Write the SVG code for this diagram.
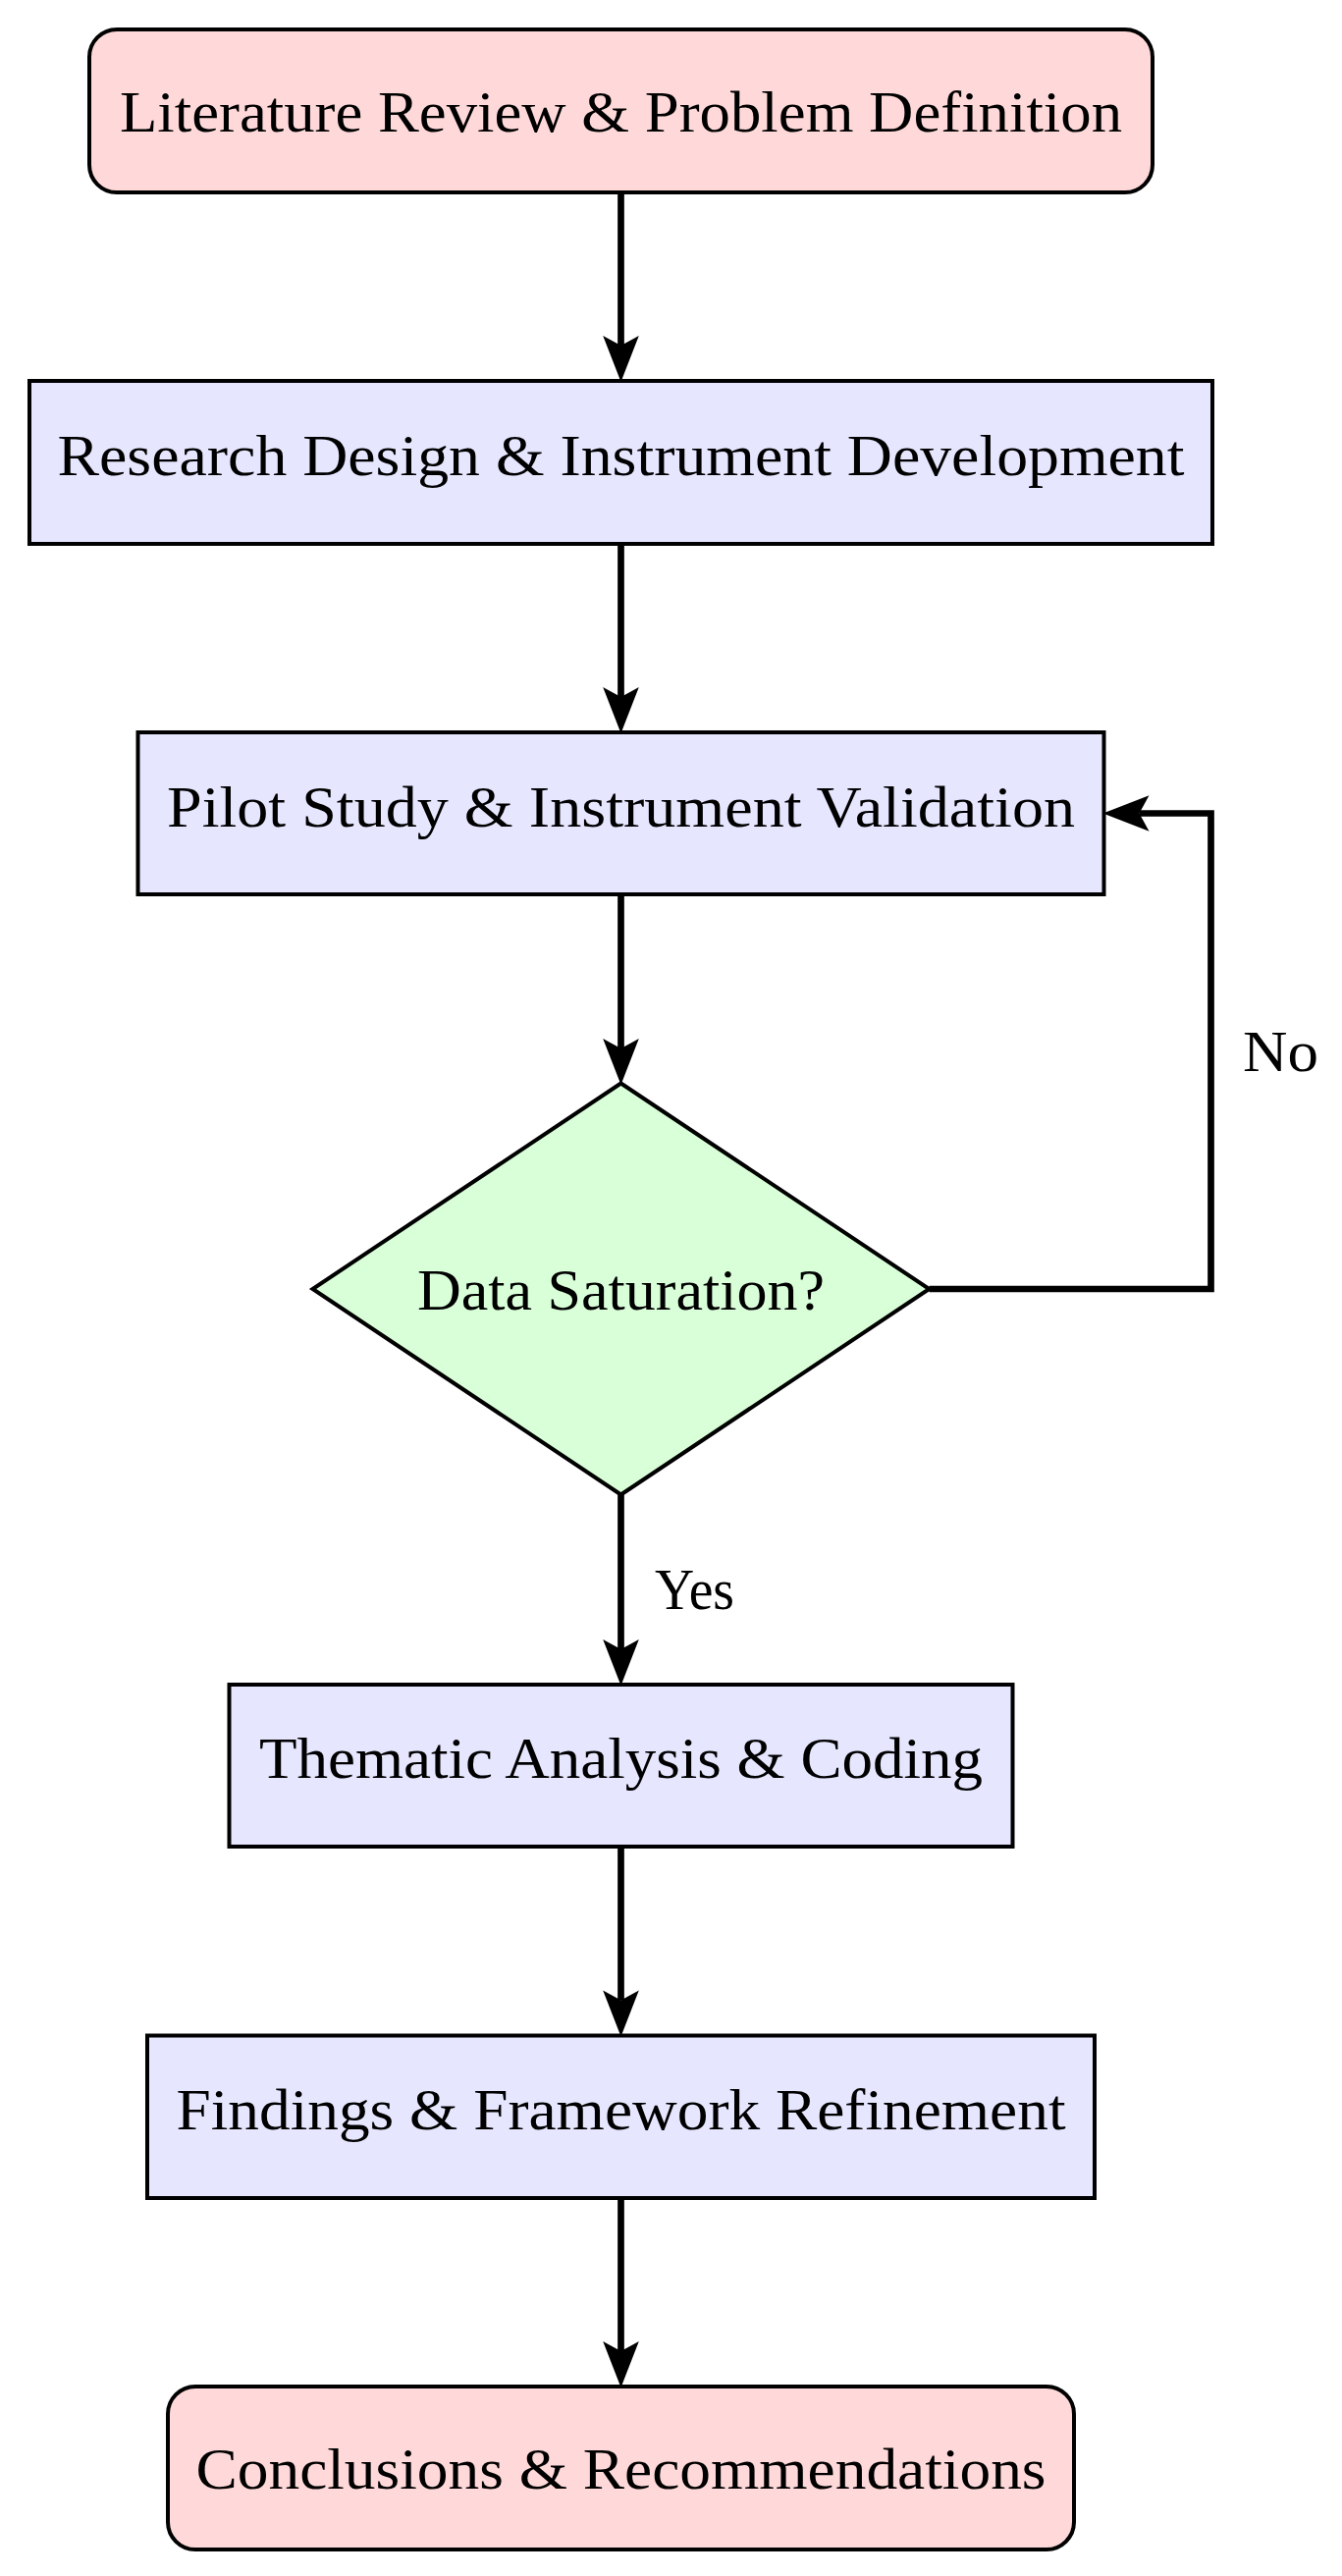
<svg xmlns="http://www.w3.org/2000/svg" width="1367" height="2624" viewBox="0 0 1367 2624">
<style>
.node{stroke:#000;stroke-width:4;stroke-linejoin:miter}
.term{fill:#FFD9D9}
.proc{fill:#E6E6FF}
.dec{fill:#D9FFD9}
.lbl{font-family:"Liberation Serif","Times New Roman",serif;font-size:60px;fill:#000;text-anchor:middle}
.elbl{font-family:"Liberation Serif","Times New Roman",serif;font-size:60px;fill:#000;text-anchor:start}
.conn{fill:none;stroke:#000;stroke-width:6.7;stroke-linecap:butt;stroke-linejoin:miter}
</style>
<defs>
<marker id="arr" markerUnits="userSpaceOnUse" markerWidth="60" markerHeight="40" viewBox="-2 -20 52 40" refX="10" refY="0" orient="auto">
<path d="M0,-18.3 L47,0 L0,18.3 L10,0 Z" fill="#000"/>
</marker>
</defs>
<rect width="1367" height="2624" fill="#fff"/>
<g id="connectors">
<path class="conn" d="M632.5,196 L632.5,352" marker-end="url(#arr)"/>
<path class="conn" d="M632.5,554 L632.5,710" marker-end="url(#arr)"/>
<path class="conn" d="M632.5,911 L632.5,1068" marker-end="url(#arr)"/>
<path class="conn" d="M632.5,1522.5 L632.5,1680" marker-end="url(#arr)"/>
<path class="conn" d="M632.5,1881 L632.5,2037.5" marker-end="url(#arr)"/>
<path class="conn" d="M632.5,2239 L632.5,2395" marker-end="url(#arr)"/>
<path class="conn" d="M946.5,1313 L1233.5,1313 L1233.5,828.5 L1160.5,828.5" marker-end="url(#arr)"/>
<text class="elbl" x="1266" y="1090.5" textLength="77" lengthAdjust="spacingAndGlyphs">No</text>
<text class="elbl" x="667" y="1639" textLength="81" lengthAdjust="spacingAndGlyphs">Yes</text>
</g>
<g id="n1">
<rect class="node term" x="91" y="30" width="1083" height="166" rx="28" ry="28"/>
<text class="lbl" x="632.5" y="134" textLength="1021" lengthAdjust="spacingAndGlyphs">Literature Review &amp; Problem Definition</text>
</g>
<g id="n2">
<rect class="node proc" x="30" y="388" width="1205" height="166"/>
<text class="lbl" x="632.5" y="484" textLength="1148" lengthAdjust="spacingAndGlyphs">Research Design &amp; Instrument Development</text>
</g>
<g id="n3">
<rect class="node proc" x="140.5" y="746" width="984" height="165"/>
<text class="lbl" x="632.5" y="841.5" textLength="925" lengthAdjust="spacingAndGlyphs">Pilot Study &amp; Instrument Validation</text>
</g>
<g id="n4">
<polygon class="node dec" points="632.5,1103.5 946.5,1313 632.5,1522.5 318.5,1313"/>
<text class="lbl" x="632.5" y="1334" textLength="415" lengthAdjust="spacingAndGlyphs">Data Saturation?</text>
</g>
<g id="n5">
<rect class="node proc" x="233.5" y="1716" width="798" height="165"/>
<text class="lbl" x="632.5" y="1811" textLength="737" lengthAdjust="spacingAndGlyphs">Thematic Analysis &amp; Coding</text>
</g>
<g id="n6">
<rect class="node proc" x="150" y="2073.5" width="965" height="165.5"/>
<text class="lbl" x="632.5" y="2169" textLength="906" lengthAdjust="spacingAndGlyphs">Findings &amp; Framework Refinement</text>
</g>
<g id="n7">
<rect class="node term" x="171" y="2431" width="923" height="166" rx="28" ry="28"/>
<text class="lbl" x="632.5" y="2535" textLength="866" lengthAdjust="spacingAndGlyphs">Conclusions &amp; Recommendations</text>
</g>
</svg>
